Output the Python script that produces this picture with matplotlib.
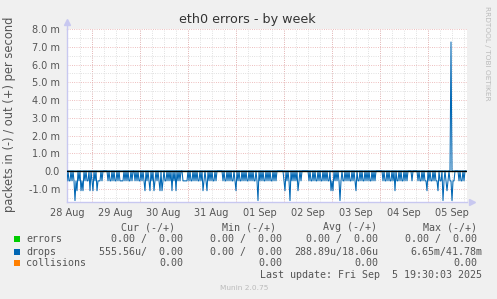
import matplotlib
matplotlib.use("Agg")
import matplotlib.pyplot as plt
from matplotlib.patches import Rectangle
import numpy as np
import pandas as pd

# drops received per 30 min sample (in-direction), one char per sample
drops_in_counts = (
    "1011010131" "2010212010" "1102012010" "2111010000" "0101101011"
    "0101111010" "1011010010" "1011010120" "1012010210" "1012021011"
    "0101020102" "0101001111" "1010110101" "0110102101" "2010101101"
    "0000001011" "0101011012" "0101101010" "1101010110" "1301010110"
    "1010110101" "0000000120" "1013010101" "0210100000" "0010110101"
    "1010110101" "0110212010" "1013101101" "0101101012" "0110101101"
    "0101101010" "0000001011" "0101101020" "1101011010" "1000010000"
    "0101101011" "2010110101" "1201103101" "2101131100" "0010110100"
)
drops_in = np.array([int(c) for c in drops_in_counts]) / 1800.0 * 1000  # milli-packets/s
drops_out = np.zeros(len(drops_in))
drops_out[384] = 7.27  # the single spike on 05 Sep
errors = np.zeros(len(drops_in))
collisions = np.zeros(len(drops_in))

times = pd.date_range("2025-08-28 11:45", periods=len(drops_in), freq="30min")
day_labels = ["28 Aug", "29 Aug", "30 Aug", "31 Aug", "01 Sep", "02 Sep", "03 Sep", "04 Sep", "05 Sep"]
label_times = pd.date_range("2025-08-28 12:00", periods=len(day_labels), freq="D")
midnights = pd.date_range("2025-08-29", "2025-09-05", freq="D")
six_hours = pd.date_range("2025-08-28 18:00", "2025-09-05 18:00", freq="6h")
y_ticks = [-1, 0, 1, 2, 3, 4, 5, 6, 7, 8]
y_labels = ["-1.0 m", "0.0", "1.0 m", "2.0 m", "3.0 m", "4.0 m", "5.0 m", "6.0 m", "7.0 m", "8.0 m"]
y_minor = [-1.5, -0.5, 0.5, 1.5, 2.5, 3.5, 4.5, 5.5, 6.5, 7.5]

W, H = 497, 299
fig = plt.figure(figsize=(W / 100, H / 100), dpi=100, facecolor="#F0F0F0")
ax = fig.add_axes([67 / W, (H - 202) / H, 400 / W, (202 - 28.5) / H])
ax.set_facecolor("white")

x0 = times[0]
x1 = times[0] + pd.Timedelta(hours=200)
ax.set_xlim(x0, x1)
ax.set_ylim(-1.746, 8.03)

# grid
dot = dict(lw=0.6, dashes=(1, 1.7))
for t in six_hours:
    ax.axvline(t, color="#D6D6D6", zorder=1, **dot)
for t in midnights:
    ax.axvline(t, color="#E8A8A8", zorder=1, **dot)
for v in y_minor:
    ax.axhline(v, color="#D6D6D6", zorder=1, **dot)
for v in y_ticks:
    ax.axhline(v, color="#E8A8A8", zorder=1, **dot)

# series
ax.plot(times, errors, color="#00CC00", lw=0.8, zorder=2)
ax.plot(times, collisions, color="#FF8000", lw=0.8, zorder=2)
ax.plot(times, -drops_in, color="#0066B3", lw=0.75, zorder=3)
ax.plot(times, drops_out, color="#0066B3", lw=0.75, zorder=3)
ax.axhline(0, color="black", lw=0.9, zorder=4)

# axes
for s in ["top", "right"]:
    ax.spines[s].set_visible(False)
for s in ["left", "bottom"]:
    ax.spines[s].set_color("#C8C8F0")
    ax.spines[s].set_linewidth(1)
ax.plot([0], [1.035], marker="^", color="#C8C8F0", ms=4, transform=ax.transAxes, clip_on=False)
ax.plot([0, 0], [1.0, 1.03], color="#C8C8F0", lw=1, transform=ax.transAxes, clip_on=False)
ax.plot([1.012], [0], marker=">", color="#C8C8F0", ms=4, transform=ax.transAxes, clip_on=False)

ax.set_yticks(y_ticks)
ax.set_yticklabels(y_labels)
ax.set_xticks(label_times)
ax.set_xticklabels(day_labels)
ax.tick_params(axis="both", length=0, labelsize=7, colors="#555555")
ax.tick_params(axis="y", pad=5)
ax.tick_params(axis="x", pad=4.5)

# texts
txt = "#555555"
fig.text(0.497, 1 - 19 / H, "eth0 errors - by week", ha="center", va="center", fontsize=9.2, color="#333333")
fig.text(10 / W, 1 - 114 / H, "packets in (-) / out (+) per second", rotation=90,
         ha="center", va="center", fontsize=8.3, color=txt)
fig.text(487 / W, 1 - 53 / H, "RRDTOOL / TOBI OETIKER", rotation=270,
         ha="center", va="center", fontsize=5.3, color="#BBBBBB")

mono = dict(family="DejaVu Sans Mono", fontsize=7.2, color=txt, va="center")

def px(x, y):
    return x / W, 1 - y / H

headers = [("Cur (-/+)", 121), ("Min (-/+)", 222), ("Avg (-/+)", 323), ("Max (-/+)", 423)]
for h, x in headers:
    fig.text(*px(x, 227), h, ha="left", **mono)

names = ["errors", "drops", "collisions"]
colors = ["#00CC00", "#0066B3", "#FF8000"]
rows_y = [239, 252, 263]
cells = [
    ["0.00 /  0.00", "0.00 /  0.00", "0.00 /  0.00", "0.00 /  0.00"],
    ["555.56u/  0.00", "0.00 /  0.00", "288.89u/18.06u", "6.65m/41.78m"],
    ["0.00", "0.00", "0.00", "0.00"],
]
col_right = [[183, 282, 378, 477], [183, 282, 378, 482], [183, 282, 378, 477]]
for name, c, y, row, rights in zip(names, colors, rows_y, cells, col_right):
    fig.add_artist(Rectangle(px(14, y + 3), 6 / W, 6 / H, transform=fig.transFigure,
                             facecolor=c, edgecolor="none"))
    fig.text(*px(26, y), name, ha="left", **mono)
    for s, xr in zip(row, rights):
        fig.text(*px(xr, y), s, ha="right", **mono)

fig.text(*px(482, 275), "Last update: Fri Sep  5 19:30:03 2025", ha="right", **mono)
fig.text(*px(244, 288), "Munin 2.0.75", ha="center", va="center", fontsize=5.3, color="#BBBBBB")

fig.savefig("out.png", dpi=100, facecolor=fig.get_facecolor())
